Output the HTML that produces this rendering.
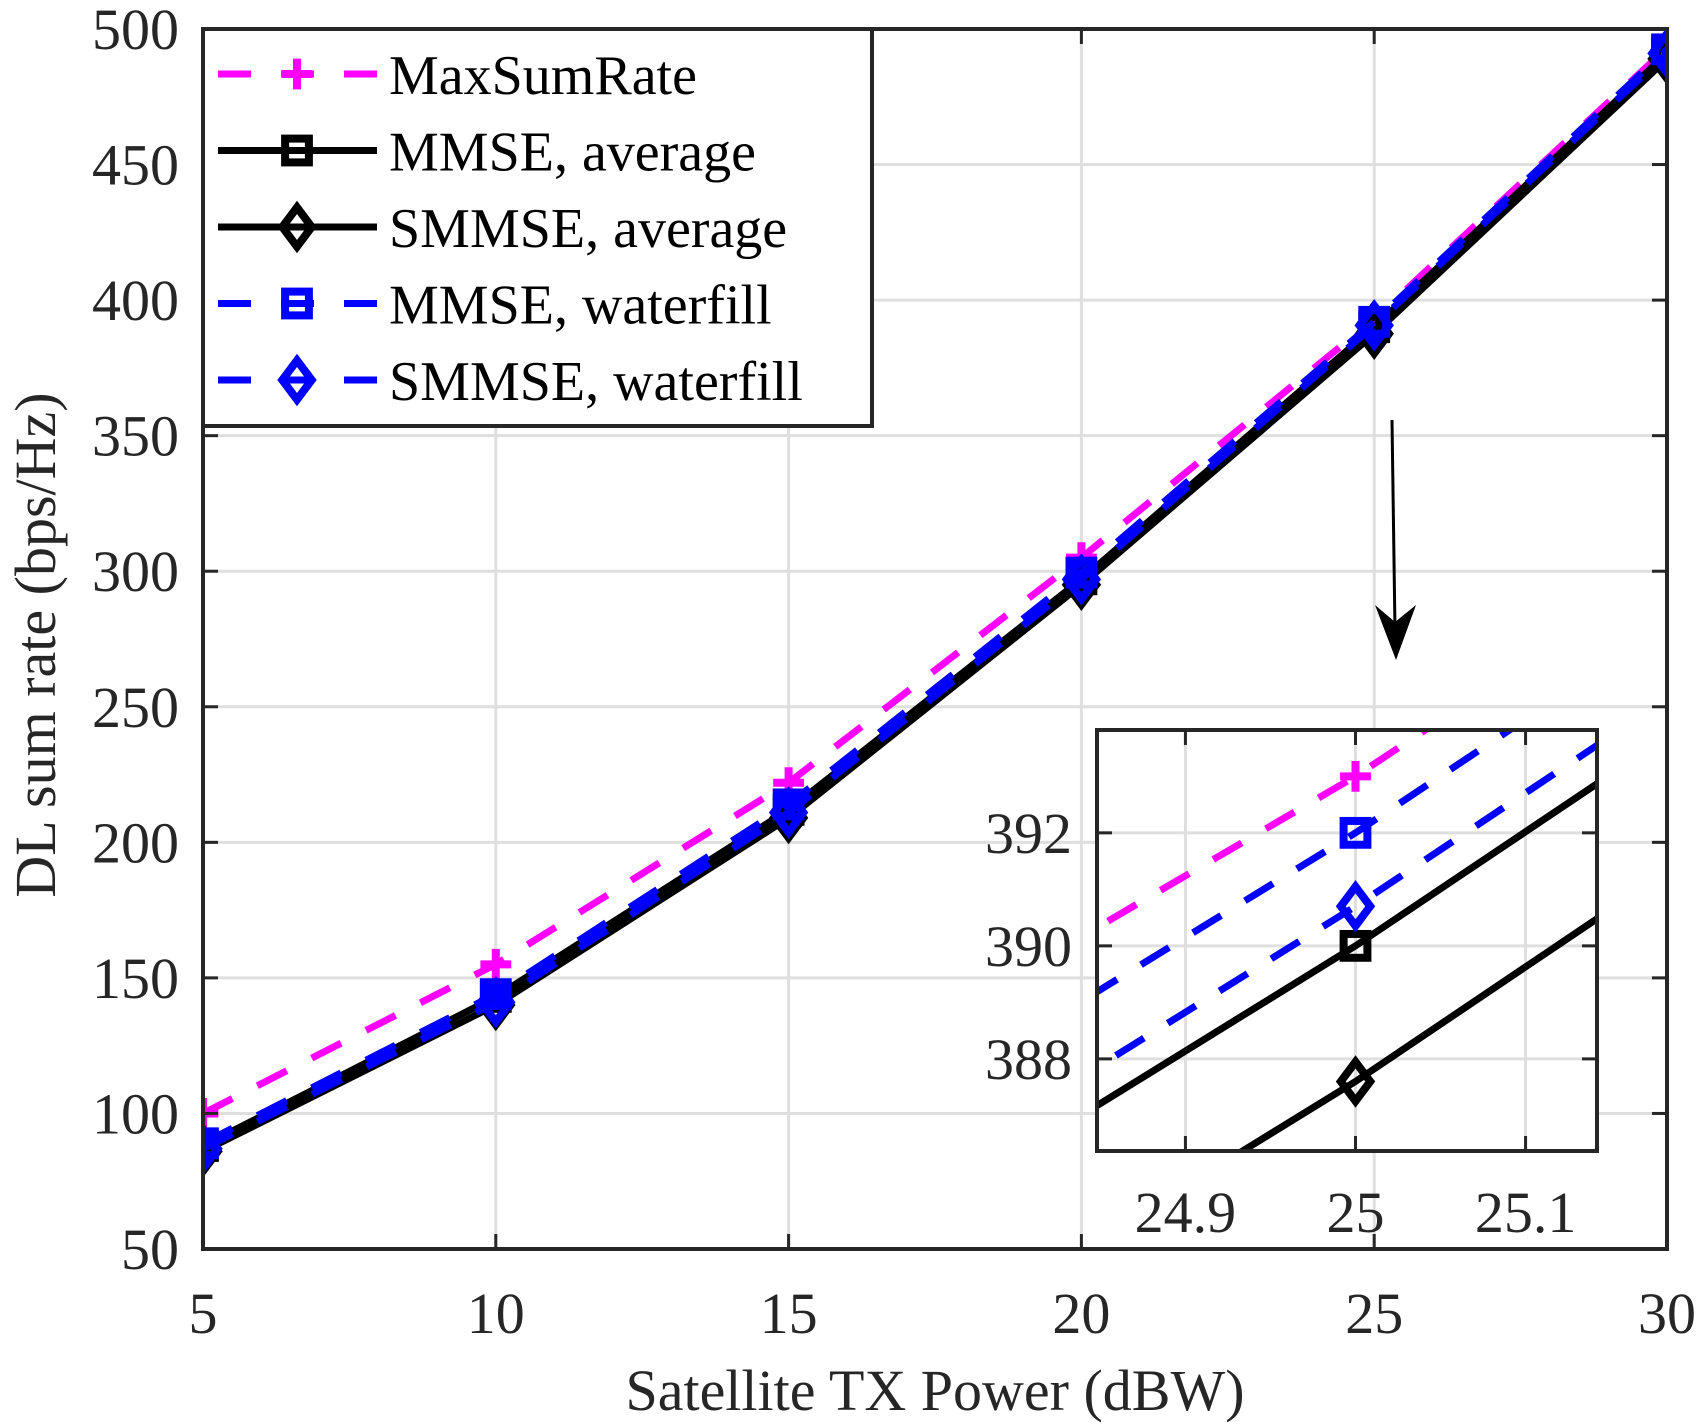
<!DOCTYPE html>
<html><head><meta charset="utf-8"><style>
html,body{margin:0;padding:0;background:#fff;width:1706px;height:1428px;overflow:hidden;}
svg{display:block;}
text{font-family:"Liberation Serif","Times New Roman",serif;}
</style></head><body>
<svg id="chart" width="1706" height="1428" viewBox="0 0 1706 1428" xmlns="http://www.w3.org/2000/svg" font-family="Liberation Serif, serif"></svg>
<script>
const xValues = [5, 10, 15, 20, 25, 30];
const maxSumRate = [100, 155, 222, 305, 393, 493];
const mmseAverage = [88, 143, 212, 297, 390, 491];
const smmseAverage = [86, 140, 209, 295, 387.6, 489];
const mmseWaterfill = [89, 144, 214, 299.5, 392, 492.5];
const smmseWaterfill = [87, 141, 211, 297, 390.7, 491];
const xTicks = [5, 10, 15, 20, 25, 30];
const yTicks = [50, 100, 150, 200, 250, 300, 350, 400, 450, 500];
const insetXTicks = [24.9, 25, 25.1];
const insetXTickLabels = ['24.9', '25', '25.1'];
const insetYTicks = [388, 390, 392];
const legendLabels = ['MaxSumRate', 'MMSE, average', 'SMMSE, average', 'MMSE, waterfill', 'SMMSE, waterfill'];

const NS = 'http://www.w3.org/2000/svg';
const svg = document.getElementById('chart');
function mk(tag, attrs, parent) {
  const e = document.createElementNS(NS, tag);
  for (const k in attrs) e.setAttribute(k, attrs[k]);
  (parent || svg).appendChild(e);
  return e;
}
const M = {l: 203, r: 1667, t: 29, b: 1249, x0: 5, x1: 30, y0: 50, y1: 500};
const I = {l: 1097, r: 1597, t: 730, b: 1151, x0: 24.848, x1: 25.142, y0: 386.37, y1: 393.82};
function sx(A, v) { return A.l + (v - A.x0) / (A.x1 - A.x0) * (A.r - A.l); }
function sy(A, v) { return A.b - (v - A.y0) / (A.y1 - A.y0) * (A.b - A.t); }

const series = [
  {vals: maxSumRate, color: '#ff00ff', dash: true, marker: 'plus', name: 'series-maxsumrate'},
  {vals: mmseAverage, color: '#000000', dash: false, marker: 'square', name: 'series-mmse-average'},
  {vals: smmseAverage, color: '#000000', dash: false, marker: 'diamond', name: 'series-smmse-average'},
  {vals: mmseWaterfill, color: '#0000ff', dash: true, marker: 'square', name: 'series-mmse-waterfill'},
  {vals: smmseWaterfill, color: '#0000ff', dash: true, marker: 'diamond', name: 'series-smmse-waterfill'}
];

function marker(g, type, x, y, color, s) {
  let m;
  if (type === 'plus') {
    m = mk('path', {d: `M${x-s*1.1},${y}H${x+s*1.1}M${x},${y-s*1.1}V${y+s*1.1}`, stroke: color, 'stroke-width': 8, fill: 'none'}, g);
  } else if (type === 'square') {
    m = mk('rect', {x: x-s*0.85, y: y-s*0.85, width: s*1.7, height: s*1.7, stroke: color, 'stroke-width': 8, fill: 'none'}, g);
  } else {
    m = mk('path', {d: `M${x},${y-s*1.4}L${x+s*1.05},${y}L${x},${y+s*1.4}L${x-s*1.05},${y}Z`, stroke: color, 'stroke-width': 8, fill: 'none'}, g);
  }
  
  
}

function drawAxes(A, xt, yt, isInset) {
  const g = mk('g', {});
  
  
  mk('rect', {x: A.l, y: A.t, width: A.r - A.l, height: A.b - A.t, fill: '#fff'}, g);
  xt.forEach(v => {
    const x = sx(A, v);
    const l = mk('line', {x1: x, x2: x, y1: A.t, y2: A.b, stroke: '#dfdfdf', 'stroke-width': 3}, g);
    
    
  });
  yt.forEach(v => {
    const y = sy(A, v);
    const l = mk('line', {x1: A.l, x2: A.r, y1: y, y2: y, stroke: '#dfdfdf', 'stroke-width': 3}, g);
    
    
  });
}
function drawFrame(A, xt, xtl, yt, isInset) {
  const g = mk('g', {});
  
  
  const tl = 15;
  xt.forEach((v, i) => {
    const x = sx(A, v);
    mk('line', {x1: x, x2: x, y1: A.b, y2: A.b - tl, stroke: '#262626', 'stroke-width': 3}, g);
    mk('line', {x1: x, x2: x, y1: A.t, y2: A.t + tl, stroke: '#262626', 'stroke-width': 3}, g);
    const t = mk('text', {x: x, y: isInset ? 1232 : 1333, 'font-size': 58, fill: '#262626', 'text-anchor': 'middle'}, g);
    t.textContent = xtl[i];
    
    
  });
  yt.forEach(v => {
    const y = sy(A, v);
    mk('line', {x1: A.l, x2: A.l + tl, y1: y, y2: y, stroke: '#262626', 'stroke-width': 3}, g);
    mk('line', {x1: A.r, x2: A.r - tl, y1: y, y2: y, stroke: '#262626', 'stroke-width': 3}, g);
    const t = mk('text', {x: isInset ? 1072 : 179, y: y + 20, 'font-size': 58, fill: '#262626', 'text-anchor': 'end'}, g);
    t.textContent = String(v);
    
    
  });
  mk('rect', {x: A.l, y: A.t, width: A.r - A.l, height: A.b - A.t, fill: 'none', stroke: '#262626', 'stroke-width': 4}, g);
}
function drawSeries(A, clipId, ms) {
  const g = mk('g', {'clip-path': `url(#${clipId})`});
  
  
  series.forEach(s => {
    const pts = xValues.map((x, i) => `${sx(A, x)},${sy(A, s.vals[i])}`).join(' ');
    const p = mk('polyline', {points: pts, fill: 'none', stroke: s.color, 'stroke-width': 7, 'stroke-dasharray': s.dash ? '33 28' : 'none'}, g);
    
    
    xValues.forEach((x, i) => marker(g, s.marker, sx(A, x), sy(A, s.vals[i]), s.color, ms));
  });
}
const defs = mk('defs', {});
const c1 = mk('clipPath', {id: 'clipMain'}, defs);
mk('rect', {x: M.l, y: M.t, width: M.r - M.l, height: M.b - M.t}, c1);
const c2 = mk('clipPath', {id: 'clipInset'}, defs);
mk('rect', {x: I.l, y: I.t, width: I.r - I.l, height: I.b - I.t}, c2);

drawAxes(M, xTicks, yTicks, false);
drawSeries(M, 'clipMain', 14);
drawFrame(M, xTicks, xTicks.map(String), yTicks, false);

const xl = mk('text', {x: 935, y: 1410, 'font-size': 58, fill: '#262626', 'text-anchor': 'middle'});
xl.textContent = 'Satellite TX Power (dBW)';


const yl = mk('text', {x: 0, y: 0, 'font-size': 58, fill: '#262626', 'text-anchor': 'middle', transform: 'translate(55,645) rotate(-90)'});
yl.textContent = 'DL sum rate (bps/Hz)';



const lg = mk('g', {});


mk('rect', {x: 203, y: 29, width: 669, height: 397, fill: '#fff', stroke: '#262626', 'stroke-width': 4}, lg);
legendLabels.forEach((lab, i) => {
  const s = series[i];
  const y = 74 + i * 76.5;
  const e = mk('g', {}, lg);
  
  
  mk('line', {x1: 218, x2: 377, y1: y, y2: y, stroke: s.color, 'stroke-width': 7, 'stroke-dasharray': s.dash ? '33 30' : 'none'}, e);
  marker(e, s.marker, 297, y, s.color, 14);
  const t = mk('text', {x: 389, y: y + 20, 'font-size': 56, fill: '#000'}, e);
  t.textContent = lab;
});

const ar = mk('g', {});


mk('line', {x1: 1392, y1: 420, x2: 1395, y2: 630, stroke: '#000', 'stroke-width': 3}, ar);
mk('path', {d: 'M1396,660 L1375,605 L1395,622 L1416,605 Z', fill: '#000'}, ar);

drawAxes(I, insetXTicks, insetYTicks, true);
drawSeries(I, 'clipInset', 14);
drawFrame(I, insetXTicks, insetXTickLabels, insetYTicks, true);
</script>
</body></html>
